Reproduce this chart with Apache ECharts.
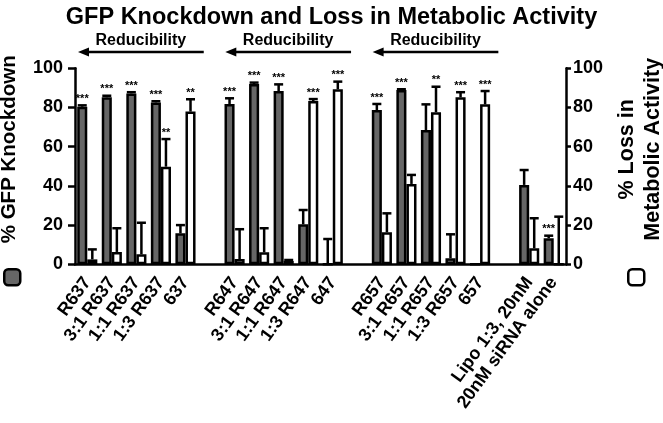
<!DOCTYPE html>
<html>
<head>
<meta charset="utf-8">
<script src="https://cdn.jsdelivr.net/npm/echarts@6/dist/echarts.min.js"></script>
<style>
html,body{margin:0;padding:0;background:#fff;}
#chart{width:663px;height:423px;}
</style>
</head>
<body>
<div id="chart"></div>
<script>
const categories = ['R637','3:1 R637','1:1 R637','1:3 R637','637','',
  'R647','3:1 R647','1:1 R647','1:3 R647','647','',
  'R657','3:1 R657','1:1 R657','1:3 R657','657','',
  'Lipo 1:3, 20nM','20nM siRNA alone'];
const gfpKnockdown = [80.4,85.2,87.2,82.6,15.8,null, 81.8,92.0,88.4,20.4,0,null, 78.7,88.9,68.5,3.1,0,null, 40.5,13.3];
const gfpError     = [0.7,0.8,0.6,0.6,4.2,null, 2.9,0.7,3.4,7.3,12.9,null, 3.1,0.4,13.1,12.2,null,null, 7.6,1.3];
const gfpStars     = ['***','***','***','***','','', '***','***','***','','','', '***','***','','','','', '','***'];
const metabolicLoss  = [2.5,6.3,5.1,49.8,77.9,null, 2.7,6.1,1.7,83.3,89.3,null, 16.3,41.0,77.6,85.2,81.6,null, 8.2,0];
const metabolicError = [5.1,12.1,16.1,14.1,6.3,null, 15.2,12.3,0.5,1.0,3.9,null, 9.7,4.6,13.0,2.6,6.8,null, 15.3,24.3];
const metabolicStars = ['','','','**','**','', '','','','***','***','', '','','**','***','***','', '',''];
const yTicks = [0,20,40,60,80,100];
const groups = [[0,4],[6,10],[12,16]];
const groupLabel = 'Reducibility';

const FONT = '"Liberation Sans", Arial, Helvetica, sans-serif';
const BAR_FRAC = 0.41;

function errData(vals, errs) {
  const out = [];
  vals.forEach((v, i) => {
    if (v === null || v === undefined) return;
    out.push([i, v, errs[i] == null ? 0 : errs[i]]);
  });
  return out;
}
function starsFor(side){ return side < 0 ? gfpStars : metabolicStars; }

function makeErrRender(side) {
  return function (params, api) {
    const idx = api.value(0), v = api.value(1), e = api.value(2);
    const star = starsFor(side)[idx];
    const bw = api.size([1, 0])[0];
    const off = side * bw * BAR_FRAC / 2;
    const base = api.coord([idx, v]);
    const top = api.coord([idx, v + e]);
    const x = base[0] + off;
    const children = [];
    if (e > 0) {
      children.push({type:'line', shape:{x1:x, y1:base[1], x2:x, y2:top[1]}, style:{stroke:'#000', lineWidth:2.5}});
      children.push({type:'line', shape:{x1:x-4.5, y1:top[1], x2:x+4.5, y2:top[1]}, style:{stroke:'#000', lineWidth:2.5}});
    }
    if (star) {
      children.push({type:'text', x:x, y:top[1]-1, style:{text:star, fill:'#000', font:'bold 11px ' + FONT, align:'center', verticalAlign:'bottom'}});
    }
    return {type:'group', children};
  };
}

const chart = echarts.init(document.getElementById('chart'));
function yAxisFor(pos, name, gap, tickLen, labelMargin, nameSize) {
  return {
    type:'value', min:yTicks[0], max:yTicks[yTicks.length-1], interval:yTicks[1]-yTicks[0], position:pos,
    axisLine:{show:true, lineStyle:{color:'#000', width:2.5}},
    axisTick:{show:true, length:tickLen, lineStyle:{color:'#000', width:2.5}},
    axisLabel:{color:'#000', fontWeight:'bold', fontSize:18, fontFamily:FONT, margin:labelMargin},
    splitLine:{show:false},
    name:name, nameLocation:'middle', nameRotate:90, nameGap:gap,
    nameTextStyle:{color:'#000', fontWeight:'bold', fontSize:nameSize, fontFamily:FONT, lineHeight:26, padding:[0,0,0,34]}
  };
}
const option = {
  animation:false,
  backgroundColor:'#fff',
  title:{text:'GFP Knockdown and Loss in Metabolic Activity', left:'center', top:1,
    textStyle:{color:'#000', fontWeight:'bold', fontSize:23.5, fontFamily:FONT}},
  legend:[
    {data:['% GFP Knockdown'], left:3, top:268, padding:0, itemWidth:16, itemHeight:16, selectedMode:false,
     formatter:()=>'', itemStyle:{color:'#666', borderColor:'#000', borderWidth:2.5}},
    {data:['% Loss in Metabolic Activity'], left:627, top:268, padding:0, itemWidth:16, itemHeight:16, selectedMode:false,
     formatter:()=>'', itemStyle:{color:'#fff', borderColor:'#000', borderWidth:2.5}}
  ],
  grid:{left:75, right:97, top:68.3, bottom:158.7, containLabel:false, outerBoundsMode:'none'},
  xAxis:{type:'category', data:categories,
    axisLine:{lineStyle:{color:'#000', width:2.5}},
    axisTick:{alignWithLabel:true, interval:0, length:5, lineStyle:{color:'#000', width:2.5}},
    axisLabel:{interval:0, rotate:54, color:'#000', fontWeight:'bold', fontSize:18, fontFamily:FONT, margin:15}
  },
  yAxis:[
    yAxisFor('left', '% GFP Knockdown', 48, 7, 12, 20.5),
    yAxisFor('right', '% Loss in\nMetabolic Activity', 45, 5, 7, 21.5)
  ],
  series:[
    {name:'% GFP Knockdown', type:'bar', yAxisIndex:0, data:gfpKnockdown, barWidth:(BAR_FRAC*100)+'%', barGap:'0%',
     itemStyle:{color:'#666666', borderColor:'#000', borderWidth:2.5}, z:2},
    {name:'% Loss in Metabolic Activity', type:'bar', yAxisIndex:1, data:metabolicLoss, barWidth:(BAR_FRAC*100)+'%', barGap:'0%',
     itemStyle:{color:'#ffffff', borderColor:'#000', borderWidth:2.5}, z:2},
    {type:'custom', yAxisIndex:0, data:errData(gfpKnockdown, gfpError), renderItem:makeErrRender(-1), z:3, clip:false},
    {type:'custom', yAxisIndex:1, data:errData(metabolicLoss, metabolicError), renderItem:makeErrRender(1), z:3, clip:false}
  ]
};
chart.setOption(option);

const c0 = chart.convertToPixel({xAxisIndex:0}, 0);
const c1 = chart.convertToPixel({xAxisIndex:0}, 1);
const band = c1 - c0;
const arrowY = 52;
const elems = [];
groups.forEach(([a, b]) => {
  const x1 = chart.convertToPixel({xAxisIndex:0}, a) - band/2 + 3;
  const x2 = chart.convertToPixel({xAxisIndex:0}, b) + band/2 + 6;
  elems.push({type:'line', shape:{x1:x1+8, y1:arrowY, x2:x2, y2:arrowY}, style:{stroke:'#000', lineWidth:2.5}});
  elems.push({type:'polygon', shape:{points:[[x1, arrowY],[x1+11, arrowY-4.5],[x1+11, arrowY+4.5]]}, style:{fill:'#000'}});
  elems.push({type:'text', x:(x1+x2)/2, y:41, style:{text:groupLabel, fill:'#000', font:'bold 16px ' + FONT, align:'center', verticalAlign:'middle'}});
});
chart.setOption({graphic:{elements:elems}});
</script>
</body>
</html>
